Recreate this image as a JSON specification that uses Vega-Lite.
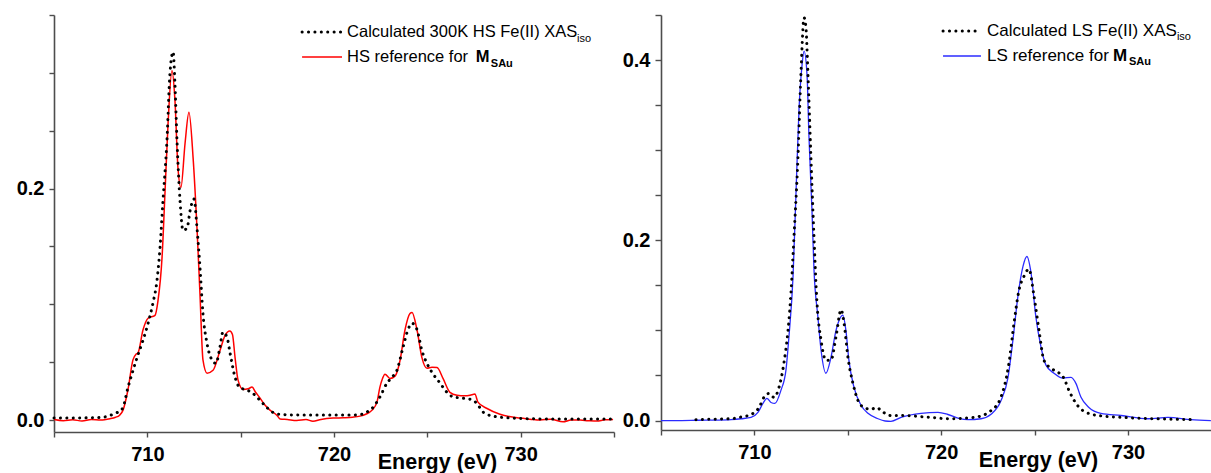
{
  "$schema": "https://vega.github.io/schema/vega-lite/v6.json",
  "padding": {"left": 13, "top": 5, "right": 0, "bottom": 0},
  "spacing": -1,
  "config": {
    "font": "Liberation Sans",
    "view": {"stroke": null},
    "axis": {
      "grid": false,
      "domainColor": "#4d4d4d",
      "domainWidth": 1.6,
      "tickColor": "#4d4d4d",
      "tickWidth": 1.4,
      "labelFont": "Liberation Sans",
      "labelFontWeight": "bold",
      "labelFontSize": 20,
      "labelColor": "#000000",
      "titleFont": "Liberation Sans",
      "titleFontWeight": "bold",
      "titleFontSize": 21.5,
      "titleColor": "#000000"
    },
    "text": {"font": "Liberation Sans", "fontSize": 16.5, "color": "#000000", "align": "left", "baseline": "alphabetic"}
  },
  "datasets": {
    "hs_calc": [
      {"energy": 705.0, "intensity": 0.0017}, {"energy": 706.0, "intensity": 0.0018}, {"energy": 707.0, "intensity": 0.002},
      {"energy": 707.5, "intensity": 0.0022}, {"energy": 708.0, "intensity": 0.004}, {"energy": 708.3, "intensity": 0.006},
      {"energy": 708.55, "intensity": 0.008}, {"energy": 708.7, "intensity": 0.011}, {"energy": 708.96, "intensity": 0.028},
      {"energy": 709.18, "intensity": 0.04}, {"energy": 709.45, "intensity": 0.054}, {"energy": 709.77, "intensity": 0.069},
      {"energy": 710.04, "intensity": 0.0836}, {"energy": 710.3, "intensity": 0.101}, {"energy": 710.52, "intensity": 0.121},
      {"energy": 710.68, "intensity": 0.149}, {"energy": 710.84, "intensity": 0.19}, {"energy": 711.05, "intensity": 0.241},
      {"energy": 711.21, "intensity": 0.299}, {"energy": 711.38, "intensity": 0.318}, {"energy": 711.48, "intensity": 0.29},
      {"energy": 711.59, "intensity": 0.241}, {"energy": 711.75, "intensity": 0.19}, {"energy": 711.91, "intensity": 0.164},
      {"energy": 712.13, "intensity": 0.166}, {"energy": 712.29, "intensity": 0.181}, {"energy": 712.5, "intensity": 0.191},
      {"energy": 712.66, "intensity": 0.166}, {"energy": 712.82, "intensity": 0.132}, {"energy": 712.98, "intensity": 0.092},
      {"energy": 713.2, "intensity": 0.066}, {"energy": 713.46, "intensity": 0.052}, {"energy": 713.68, "intensity": 0.049},
      {"energy": 713.89, "intensity": 0.063}, {"energy": 714.05, "intensity": 0.076}, {"energy": 714.27, "intensity": 0.0716},
      {"energy": 714.43, "intensity": 0.058}, {"energy": 714.7, "intensity": 0.037}, {"energy": 714.96, "intensity": 0.028},
      {"energy": 715.34, "intensity": 0.026}, {"energy": 715.66, "intensity": 0.023}, {"energy": 716.04, "intensity": 0.017},
      {"energy": 716.46, "intensity": 0.01}, {"energy": 716.8, "intensity": 0.006}, {"energy": 717.11, "intensity": 0.005},
      {"energy": 718.18, "intensity": 0.0043}, {"energy": 719.5, "intensity": 0.0043}, {"energy": 721.0, "intensity": 0.0043},
      {"energy": 721.5, "intensity": 0.005}, {"energy": 721.77, "intensity": 0.007}, {"energy": 722.09, "intensity": 0.011},
      {"energy": 722.46, "intensity": 0.02}, {"energy": 722.84, "intensity": 0.032}, {"energy": 723.11, "intensity": 0.037},
      {"energy": 723.37, "intensity": 0.043}, {"energy": 723.7, "intensity": 0.063}, {"energy": 723.96, "intensity": 0.078},
      {"energy": 724.18, "intensity": 0.0836}, {"energy": 724.45, "intensity": 0.078}, {"energy": 724.71, "intensity": 0.06},
      {"energy": 724.98, "intensity": 0.049}, {"energy": 725.3, "intensity": 0.04}, {"energy": 725.68, "intensity": 0.032},
      {"energy": 726.05, "intensity": 0.024}, {"energy": 726.38, "intensity": 0.02}, {"energy": 726.86, "intensity": 0.019},
      {"energy": 727.29, "intensity": 0.018}, {"energy": 727.66, "intensity": 0.0143}, {"energy": 727.98, "intensity": 0.007},
      {"energy": 728.52, "intensity": 0.0034}, {"energy": 729.59, "intensity": 0.0017}, {"energy": 731.4, "intensity": 0.001},
      {"energy": 733.0, "intensity": 0.001}, {"energy": 735.0, "intensity": 0.001}
    ],
    "hs_ref": [
      {"energy": 705.0, "intensity": 0.0005}, {"energy": 705.5, "intensity": -0.0005}, {"energy": 706.0, "intensity": 0.0003},
      {"energy": 706.5, "intensity": -0.0008}, {"energy": 707.0, "intensity": 0.0005}, {"energy": 707.5, "intensity": 0.0},
      {"energy": 708.0, "intensity": 0.0012}, {"energy": 708.3, "intensity": 0.0025}, {"energy": 708.5, "intensity": 0.004},
      {"energy": 708.7, "intensity": 0.0086}, {"energy": 708.96, "intensity": 0.026}, {"energy": 709.23, "intensity": 0.052},
      {"energy": 709.4, "intensity": 0.057}, {"energy": 709.5, "intensity": 0.058}, {"energy": 709.77, "intensity": 0.078},
      {"energy": 710.04, "intensity": 0.088}, {"energy": 710.41, "intensity": 0.0905}, {"energy": 710.57, "intensity": 0.103},
      {"energy": 710.79, "intensity": 0.141}, {"energy": 710.95, "intensity": 0.198}, {"energy": 711.11, "intensity": 0.256},
      {"energy": 711.32, "intensity": 0.302}, {"energy": 711.48, "intensity": 0.276}, {"energy": 711.64, "intensity": 0.218},
      {"energy": 711.8, "intensity": 0.201}, {"energy": 712.02, "intensity": 0.239}, {"energy": 712.23, "intensity": 0.266},
      {"energy": 712.45, "intensity": 0.227}, {"energy": 712.66, "intensity": 0.166}, {"energy": 712.82, "intensity": 0.109},
      {"energy": 712.98, "intensity": 0.052}, {"energy": 713.2, "intensity": 0.0405}, {"energy": 713.52, "intensity": 0.043},
      {"energy": 713.89, "intensity": 0.06}, {"energy": 714.16, "intensity": 0.073}, {"energy": 714.42, "intensity": 0.077},
      {"energy": 714.56, "intensity": 0.074}, {"energy": 714.7, "intensity": 0.054}, {"energy": 714.86, "intensity": 0.0345},
      {"energy": 715.13, "intensity": 0.0265}, {"energy": 715.4, "intensity": 0.027}, {"energy": 715.61, "intensity": 0.0285},
      {"energy": 715.8, "intensity": 0.024}, {"energy": 716.04, "intensity": 0.019}, {"energy": 716.3, "intensity": 0.013},
      {"energy": 716.57, "intensity": 0.0086}, {"energy": 716.95, "intensity": 0.004}, {"energy": 717.11, "intensity": 0.001},
      {"energy": 717.5, "intensity": 0.0005}, {"energy": 718.0, "intensity": -0.0003}, {"energy": 718.5, "intensity": 0.0005},
      {"energy": 718.87, "intensity": -0.001}, {"energy": 719.3, "intensity": 0.0005}, {"energy": 719.95, "intensity": 0.0017},
      {"energy": 720.5, "intensity": 0.002}, {"energy": 721.0, "intensity": 0.0025}, {"energy": 721.39, "intensity": 0.0034},
      {"energy": 721.7, "intensity": 0.005}, {"energy": 722.04, "intensity": 0.0086}, {"energy": 722.3, "intensity": 0.0155},
      {"energy": 722.46, "intensity": 0.0285}, {"energy": 722.6, "intensity": 0.036}, {"energy": 722.73, "intensity": 0.0397},
      {"energy": 723.0, "intensity": 0.036}, {"energy": 723.27, "intensity": 0.038}, {"energy": 723.54, "intensity": 0.0517},
      {"energy": 723.8, "intensity": 0.0776}, {"energy": 724.07, "intensity": 0.092}, {"energy": 724.18, "intensity": 0.093},
      {"energy": 724.45, "intensity": 0.0776}, {"energy": 724.71, "intensity": 0.054}, {"energy": 724.98, "intensity": 0.0448},
      {"energy": 725.25, "intensity": 0.0457}, {"energy": 725.52, "intensity": 0.0454}, {"energy": 725.84, "intensity": 0.036},
      {"energy": 726.21, "intensity": 0.024}, {"energy": 726.59, "intensity": 0.0215}, {"energy": 727.0, "intensity": 0.021},
      {"energy": 727.29, "intensity": 0.0215}, {"energy": 727.55, "intensity": 0.0225}, {"energy": 727.71, "intensity": 0.0155},
      {"energy": 728.2, "intensity": 0.01}, {"energy": 728.89, "intensity": 0.005}, {"energy": 729.96, "intensity": 0.0017},
      {"energy": 730.5, "intensity": 0.0008}, {"energy": 731.04, "intensity": 0.0}, {"energy": 731.6, "intensity": 0.0008},
      {"energy": 732.27, "intensity": -0.0015}, {"energy": 732.7, "intensity": 0.0}, {"energy": 733.18, "intensity": 0.0},
      {"energy": 733.6, "intensity": -0.0005}, {"energy": 734.09, "intensity": -0.0009}, {"energy": 734.5, "intensity": 0.0003},
      {"energy": 734.95, "intensity": 0.0006}
    ],
    "ls_calc": [
      {"energy": 706.87, "intensity": 0.001}, {"energy": 707.8, "intensity": 0.0015}, {"energy": 708.75, "intensity": 0.002},
      {"energy": 709.3, "intensity": 0.004}, {"energy": 709.82, "intensity": 0.0067}, {"energy": 710.25, "intensity": 0.0145},
      {"energy": 710.51, "intensity": 0.0257}, {"energy": 710.78, "intensity": 0.03}, {"energy": 711.05, "intensity": 0.0257},
      {"energy": 711.32, "intensity": 0.037}, {"energy": 711.58, "intensity": 0.0637}, {"energy": 711.8, "intensity": 0.1},
      {"energy": 711.96, "intensity": 0.142}, {"energy": 712.12, "intensity": 0.204}, {"energy": 712.33, "intensity": 0.29},
      {"energy": 712.49, "intensity": 0.383}, {"energy": 712.66, "intensity": 0.447}, {"energy": 712.76, "intensity": 0.436},
      {"energy": 712.87, "intensity": 0.383}, {"energy": 713.03, "intensity": 0.29}, {"energy": 713.19, "intensity": 0.204},
      {"energy": 713.35, "intensity": 0.131}, {"energy": 713.57, "intensity": 0.089}, {"energy": 713.83, "intensity": 0.067},
      {"energy": 714.1, "intensity": 0.067}, {"energy": 714.37, "intensity": 0.093}, {"energy": 714.64, "intensity": 0.123},
      {"energy": 714.8, "intensity": 0.108}, {"energy": 715.01, "intensity": 0.07}, {"energy": 715.28, "intensity": 0.041},
      {"energy": 715.55, "intensity": 0.022}, {"energy": 715.87, "intensity": 0.0145}, {"energy": 716.24, "intensity": 0.0125},
      {"energy": 716.56, "intensity": 0.0145}, {"energy": 716.78, "intensity": 0.011}, {"energy": 717.31, "intensity": 0.0056},
      {"energy": 717.85, "intensity": 0.0056}, {"energy": 719.45, "intensity": 0.0035}, {"energy": 720.36, "intensity": 0.002},
      {"energy": 721.76, "intensity": 0.0035}, {"energy": 722.67, "intensity": 0.011}, {"energy": 723.2, "intensity": 0.026},
      {"energy": 723.63, "intensity": 0.0637}, {"energy": 723.9, "intensity": 0.108}, {"energy": 724.17, "intensity": 0.145},
      {"energy": 724.43, "intensity": 0.16}, {"energy": 724.7, "intensity": 0.168}, {"energy": 724.97, "intensity": 0.138},
      {"energy": 725.24, "intensity": 0.1}, {"energy": 725.5, "intensity": 0.067}, {"energy": 725.88, "intensity": 0.058},
      {"energy": 726.25, "intensity": 0.0537}, {"energy": 726.57, "intensity": 0.047}, {"energy": 726.84, "intensity": 0.0335},
      {"energy": 727.22, "intensity": 0.019}, {"energy": 727.59, "intensity": 0.011}, {"energy": 728.39, "intensity": 0.0056},
      {"energy": 730.16, "intensity": 0.003}, {"energy": 731.93, "intensity": 0.0017}, {"energy": 733.37, "intensity": 0.001}
    ],
    "ls_ref": [
      {"energy": 705.0, "intensity": 0.0}, {"energy": 706.0, "intensity": 0.0}, {"energy": 707.0, "intensity": 0.0003},
      {"energy": 708.0, "intensity": 0.0005}, {"energy": 708.75, "intensity": 0.001}, {"energy": 709.3, "intensity": 0.002},
      {"energy": 709.82, "intensity": 0.0034}, {"energy": 710.19, "intensity": 0.009}, {"energy": 710.46, "intensity": 0.019},
      {"energy": 710.67, "intensity": 0.0246}, {"energy": 710.89, "intensity": 0.02}, {"energy": 711.1, "intensity": 0.019},
      {"energy": 711.42, "intensity": 0.0335}, {"energy": 711.69, "intensity": 0.056}, {"energy": 711.85, "intensity": 0.093},
      {"energy": 712.07, "intensity": 0.16}, {"energy": 712.23, "intensity": 0.254}, {"energy": 712.39, "intensity": 0.346},
      {"energy": 712.55, "intensity": 0.394}, {"energy": 712.66, "intensity": 0.41}, {"energy": 712.82, "intensity": 0.383},
      {"energy": 712.92, "intensity": 0.316}, {"energy": 713.08, "intensity": 0.235}, {"energy": 713.19, "intensity": 0.168},
      {"energy": 713.4, "intensity": 0.115}, {"energy": 713.57, "intensity": 0.078}, {"energy": 713.83, "intensity": 0.0525},
      {"energy": 714.1, "intensity": 0.07}, {"energy": 714.37, "intensity": 0.1}, {"energy": 714.74, "intensity": 0.117},
      {"energy": 714.9, "intensity": 0.1}, {"energy": 715.06, "intensity": 0.067}, {"energy": 715.33, "intensity": 0.037},
      {"energy": 715.71, "intensity": 0.017}, {"energy": 716.08, "intensity": 0.008}, {"energy": 716.62, "intensity": 0.002},
      {"energy": 717.0, "intensity": -0.0005}, {"energy": 717.31, "intensity": -0.001}, {"energy": 717.85, "intensity": 0.0035},
      {"energy": 718.92, "intensity": 0.008}, {"energy": 719.83, "intensity": 0.009}, {"energy": 720.36, "intensity": 0.0067},
      {"energy": 721.0, "intensity": 0.002}, {"energy": 721.43, "intensity": 0.001}, {"energy": 722.13, "intensity": 0.002},
      {"energy": 722.67, "intensity": 0.007}, {"energy": 723.2, "intensity": 0.022}, {"energy": 723.58, "intensity": 0.048},
      {"energy": 723.84, "intensity": 0.089}, {"energy": 724.11, "intensity": 0.138}, {"energy": 724.38, "intensity": 0.171},
      {"energy": 724.59, "intensity": 0.182}, {"energy": 724.81, "intensity": 0.164}, {"energy": 725.07, "intensity": 0.115},
      {"energy": 725.34, "intensity": 0.082}, {"energy": 725.61, "intensity": 0.0615}, {"energy": 726.04, "intensity": 0.0525},
      {"energy": 726.52, "intensity": 0.047}, {"energy": 726.95, "intensity": 0.048}, {"energy": 727.22, "intensity": 0.041},
      {"energy": 727.48, "intensity": 0.026}, {"energy": 727.91, "intensity": 0.0145}, {"energy": 728.55, "intensity": 0.008},
      {"energy": 729.63, "intensity": 0.0056}, {"energy": 731.07, "intensity": 0.002}, {"energy": 732.14, "intensity": 0.0035},
      {"energy": 733.37, "intensity": 0.001}, {"energy": 734.44, "intensity": 0.0}
    ]
  },
  "hconcat": [
    {
      "width": 560,
      "height": 417,
      "layer": [
        {
          "data": {"name": "hs_ref"},
          "mark": {"type": "line", "color": "#ff0000", "strokeWidth": 1.5, "interpolate": "monotone"},
          "encoding": {
            "x": {
              "field": "energy", "type": "quantitative",
              "scale": {"domain": [705, 735], "nice": false, "zero": false},
              "axis": {
                "title": "Energy (eV)", "values": [705, 710, 715, 720, 725, 730, 735], "format": "d",
                "labelExpr": "datum.value % 10 === 0 ? datum.label : ''",
                "tickSize": 5, "labelPadding": 7, "labelFlush": false, "labelOverlap": false,
                "titleX": 383, "titleY": 36.5, "titleAlign": "center", "titleBaseline": "alphabetic"
              }
            },
            "y": {
              "field": "intensity", "type": "quantitative",
              "scale": {"domain": [-0.0103, 0.35], "nice": false, "zero": false},
              "axis": {
                "title": null, "values": [0, 0.05, 0.1, 0.15, 0.2, 0.25, 0.3, 0.35],
                "labelExpr": "round(datum.value * 100) % 20 === 0 ? format(datum.value, '.1f') : ''",
                "tickSize": 5, "labelPadding": 5, "labelFlush": false, "labelOverlap": false,
                "minExtent": 41, "maxExtent": 41
              }
            }
          }
        },
        {
          "data": {"name": "hs_calc"},
          "mark": {"type": "line", "color": "#000000", "strokeWidth": 3, "strokeCap": "round", "strokeDash": [0.1, 6.3], "interpolate": "monotone"},
          "encoding": {
            "x": {"field": "energy", "type": "quantitative"},
            "y": {"field": "intensity", "type": "quantitative"}
          }
        },
        {
          "data": {"values": [{}]},
          "mark": {"type": "rule", "color": "#000000", "strokeWidth": 3, "strokeCap": "round", "strokeDash": [0.1, 6.3]},
          "encoding": {"x": {"datum": 718.29}, "x2": {"datum": 720.43}, "y": {"datum": 0.3353}}
        },
        {
          "data": {"values": [{}]},
          "mark": {"type": "rule", "color": "#ff0000", "strokeWidth": 1.5},
          "encoding": {"x": {"datum": 718.29}, "x2": {"datum": 720.43}, "y": {"datum": 0.3137}}
        },
        {
          "data": {"values": [{}]},
          "mark": {"type": "text", "text": "Calculated 300K HS Fe(II) XAS"},
          "encoding": {"x": {"datum": 720.7}, "y": {"datum": 0.331}}
        },
        {
          "data": {"values": [{}]},
          "mark": {"type": "text", "text": "iso", "fontSize": 11},
          "encoding": {"x": {"datum": 733.02}, "y": {"datum": 0.3267}}
        },
        {
          "data": {"values": [{}]},
          "mark": {"type": "text", "text": "HS reference for"},
          "encoding": {"x": {"datum": 720.7}, "y": {"datum": 0.3094}}
        },
        {
          "data": {"values": [{}]},
          "mark": {"type": "text", "text": "M", "fontWeight": "bold"},
          "encoding": {"x": {"datum": 727.6}, "y": {"datum": 0.3094}}
        },
        {
          "data": {"values": [{}]},
          "mark": {"type": "text", "text": "SAu", "fontSize": 11, "fontWeight": "bold"},
          "encoding": {"x": {"datum": 728.4}, "y": {"datum": 0.305}}
        }
      ]
    },
    {
      "width": 551,
      "height": 415,
      "layer": [
        {
          "data": {"name": "ls_ref"},
          "mark": {"type": "line", "color": "#2b2bff", "strokeWidth": 1.3, "interpolate": "monotone"},
          "encoding": {
            "x": {
              "field": "energy", "type": "quantitative",
              "scale": {"domain": [705, 734.5], "nice": false, "zero": false},
              "axis": {
                "title": "Energy (eV)", "values": [705, 710, 715, 720, 725, 730], "format": "d",
                "labelExpr": "datum.value % 10 === 0 ? datum.label : ''",
                "tickSize": 5, "labelPadding": 7, "labelFlush": false, "labelOverlap": false,
                "titleX": 377, "titleY": 36.5, "titleAlign": "center", "titleBaseline": "alphabetic"
              }
            },
            "y": {
              "field": "intensity", "type": "quantitative",
              "scale": {"domain": [-0.0105, 0.45], "nice": false, "zero": false},
              "axis": {
                "title": null, "values": [0, 0.05, 0.1, 0.15, 0.2, 0.25, 0.3, 0.35, 0.4, 0.45],
                "labelExpr": "round(datum.value * 100) % 20 === 0 ? format(datum.value, '.1f') : ''",
                "tickSize": 6, "labelPadding": 5, "labelFlush": false, "labelOverlap": false,
                "minExtent": 42, "maxExtent": 42
              }
            }
          }
        },
        {
          "data": {"name": "ls_calc"},
          "mark": {"type": "line", "color": "#000000", "strokeWidth": 3, "strokeCap": "round", "strokeDash": [0.1, 6.3], "interpolate": "monotone"},
          "encoding": {
            "x": {"field": "energy", "type": "quantitative"},
            "y": {"field": "intensity", "type": "quantitative"}
          }
        },
        {
          "data": {"values": [{}]},
          "mark": {"type": "rule", "color": "#000000", "strokeWidth": 3, "strokeCap": "round", "strokeDash": [0.1, 6.3]},
          "encoding": {"x": {"datum": 720.1}, "x2": {"datum": 722.13}, "y": {"datum": 0.4322}}
        },
        {
          "data": {"values": [{}]},
          "mark": {"type": "rule", "color": "#2b2bff", "strokeWidth": 1.3},
          "encoding": {"x": {"datum": 720.1}, "x2": {"datum": 722.13}, "y": {"datum": 0.4045}}
        },
        {
          "data": {"values": [{}]},
          "mark": {"type": "text", "text": "Calculated LS Fe(II) XAS", "fontSize": 17},
          "encoding": {"x": {"datum": 722.45}, "y": {"datum": 0.4267}}
        },
        {
          "data": {"values": [{}]},
          "mark": {"type": "text", "text": "iso", "fontSize": 11},
          "encoding": {"x": {"datum": 732.62}, "y": {"datum": 0.4223}}
        },
        {
          "data": {"values": [{}]},
          "mark": {"type": "text", "text": "LS reference for", "fontSize": 17},
          "encoding": {"x": {"datum": 722.45}, "y": {"datum": 0.3989}}
        },
        {
          "data": {"values": [{}]},
          "mark": {"type": "text", "text": "M", "fontSize": 17, "fontWeight": "bold"},
          "encoding": {"x": {"datum": 729.2}, "y": {"datum": 0.3989}}
        },
        {
          "data": {"values": [{}]},
          "mark": {"type": "text", "text": "SAu", "fontSize": 11, "fontWeight": "bold"},
          "encoding": {"x": {"datum": 730.05}, "y": {"datum": 0.3945}}
        }
      ]
    }
  ]
}
